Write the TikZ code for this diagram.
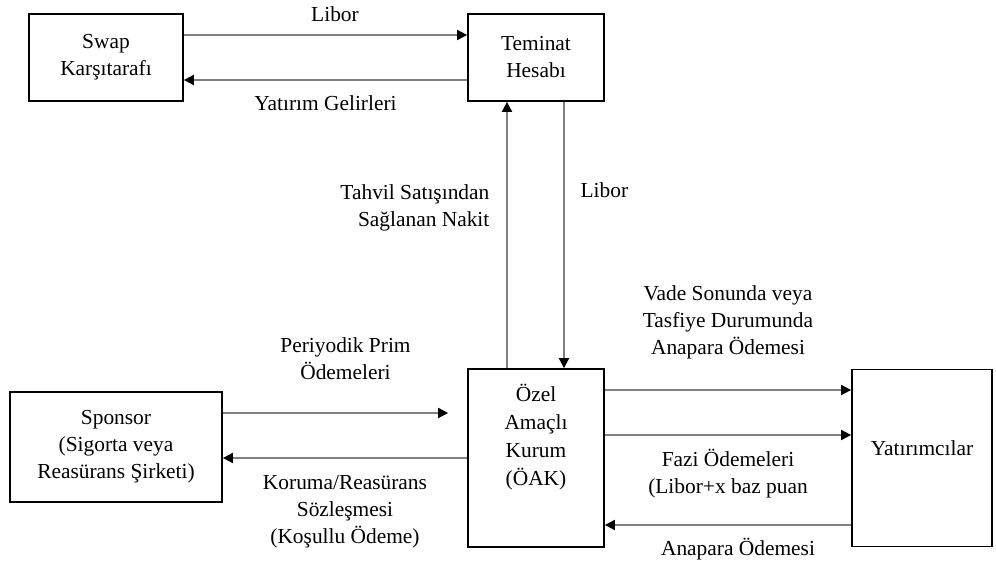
\documentclass[tikz,border=0pt]{standalone}
\usepackage{fontspec}
\setmainfont{Liberation Serif}
\usetikzlibrary{arrows.meta,positioning}

\begin{document}
\begin{tikzpicture}[x=0.5pt,y=-0.5pt,every node/.style={font=\fontsize{10.7}{13.5}\selectfont}]
\tikzstyle{box}=[draw,line width=0.9pt,align=center,inner sep=0pt]
\tikzstyle{flow}=[draw=gray,line width=1pt,-{Triangle[length=5pt,width=5pt,color=black]}]
\useasboundingbox (0,0) rectangle (996,561);
\node [box,minimum width=77pt,minimum height=43.5pt] (swap) at (106,57.5) {Swap\\Karşıtarafı};
\node [box,minimum width=68pt,minimum height=43.5pt,right of=swap,node distance=215pt] (teminat) {Teminat\\Hesabı};
\node [box,minimum width=68pt,minimum height=89pt,below of=teminat,node distance=200.25pt] (oak) {};
\node [align=center,anchor=north,font=\fontsize{10.7}{14}\selectfont] (oaktext) at ([yshift=-4.5pt]oak.north) {Özel\\Amaçlı\\Kurum\\(ÖAK)};
\node [box,minimum width=106pt,minimum height=55pt,left of=oak,node distance=210pt,yshift=5.5pt] (sponsor) {Sponsor\\(Sigorta veya\\Reasürans Şirketi)};
\node [box,minimum width=70pt,minimum height=88.5pt,right of=oak,node distance=193pt] (yat) {};
\node (yattext) at ([yshift=5pt]yat.center) {Yatırımcılar};
% swap <-> teminat
\path
    ([yshift=11.25pt]swap.east) edge[flow] node [above=3pt,xshift=4.75pt] (libor1) {Libor} ([yshift=11.25pt]teminat.west)
    ([yshift=-11.25pt]teminat.west) edge[flow] node [below=4pt] (gelir) {Yatırım Gelirleri} ([yshift=-11.25pt]swap.east);
% teminat <-> oak
\path
    ([xshift=-14.5pt]oak.north) edge[flow] node [left=5pt,pos=0.6,align=right] (tahvil) {Tahvil Satışından\\Sağlanan Nakit} ([xshift=-14.5pt]teminat.south)
    ([xshift=14pt]teminat.south) edge[flow] node [right=4.5pt,pos=0.33] (libor2) {Libor} ([xshift=14pt]oak.north);
% sponsor <-> oak
\path
    ([yshift=17pt]sponsor.east) edge[flow] node [above=13pt,xshift=5pt,align=center] (prim) {Periyodik Prim\\Ödemeleri} ([yshift=17pt,xshift=-9.5pt]sponsor.east -| oak.west)
    (oak.west) edge[flow] node [below=5pt,align=center] (koruma) {Koruma/Reasürans\\Sözleşmesi\\(Koşullu Ödeme)} (oak.west -| sponsor.east);
% oak <-> yatirimcilar
\path
    ([yshift=34pt]oak.east) edge[flow] node [above=11.4pt,align=center] (vade) {Vade Sonunda veya\\Tasfiye Durumunda\\Anapara Ödemesi} ([yshift=34pt]oak.east -| yat.west)
    ([yshift=11.5pt]oak.east) edge[flow] node [below=3pt,align=center] (fazi) {Fazi Ödemeleri\\(Libor+x baz puan} ([yshift=11.5pt]oak.east -| yat.west)
    ([yshift=-33.5pt]yat.west) edge[flow] node [below=2.5pt,xshift=5pt] (anapara) {Anapara Ödemesi} ([yshift=-33.5pt]yat.west -| oak.east);
\end{tikzpicture}
\end{document}
